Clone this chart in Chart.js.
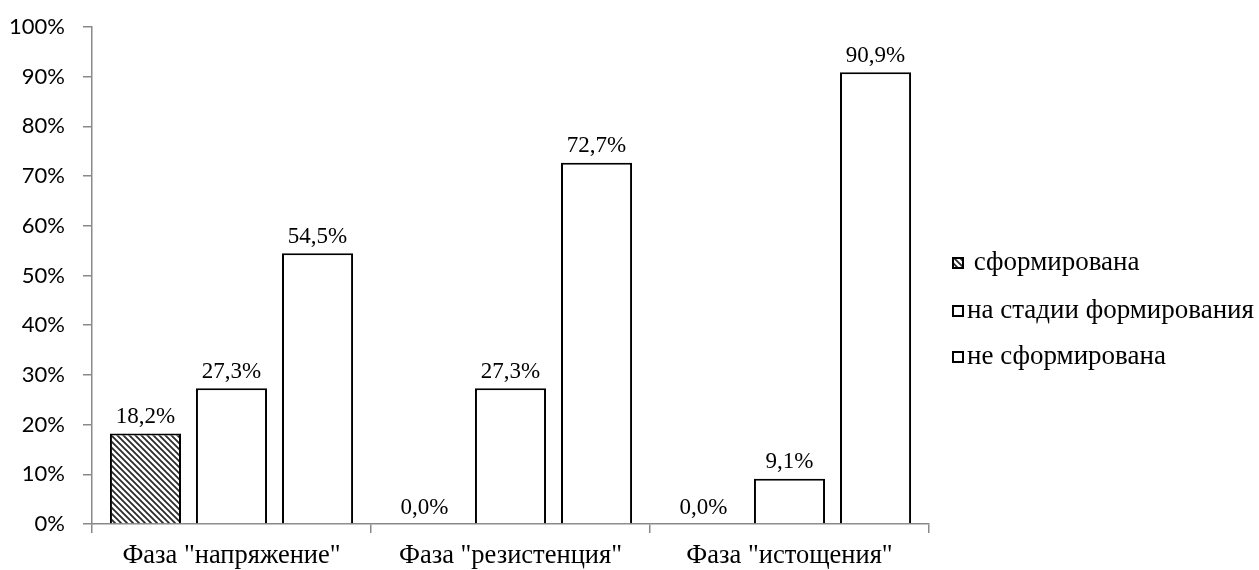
<!DOCTYPE html>
<html>
<head>
<meta charset="utf-8">
<script src="https://cdn.jsdelivr.net/npm/chart.js@4"></script>
<style>
html,body{margin:0;padding:0;background:#fff;}
canvas{display:block;}
</style>
</head>
<body>
<canvas id="c" width="1259" height="570"></canvas>
<script>
const categories = ['Фаза "напряжение"', 'Фаза "резистенция"', 'Фаза "истощения"'];
const seriesNames = ['сформирована', 'на стадии формирования', 'не сформирована'];
const formed = [18.2, 0.0, 0.0];
const forming = [27.3, 27.3, 9.1];
const notFormed = [54.5, 72.7, 90.9];
const yTicks = [0, 10, 20, 30, 40, 50, 60, 70, 80, 90, 100];

const AXIS = '#898989';
const SERIF = '"Liberation Serif", "Times New Roman", serif';

function makeHatch() {
  const s = 6;
  const p = document.createElement('canvas');
  p.width = s; p.height = s;
  const g = p.getContext('2d');
  g.fillStyle = '#fff'; g.fillRect(0, 0, s, s);
  g.strokeStyle = '#2a2a2a'; g.lineWidth = 1.8;
  g.beginPath();
  g.moveTo(-s, 0); g.lineTo(s * 2, s * 3);
  g.moveTo(-s, -s); g.lineTo(s * 2, s * 2);
  g.moveTo(0, -s); g.lineTo(s * 2, s);
  g.moveTo(-s * 2, -s); g.lineTo(s, s * 2);
  g.stroke();
  return g.createPattern(p, 'repeat');
}
const ctx0 = document.getElementById('c').getContext('2d');
const hatch = makeHatch();

const fmt = v => v.toFixed(1).replace('.', ',') + '%';

const valueLabels = {
  id: 'valueLabels',
  afterDatasetsDraw(chart) {
    const ctx = chart.ctx;
    ctx.save();
    ctx.font = '23px ' + SERIF;
    ctx.fillStyle = '#000';
    ctx.textAlign = 'center';
    ctx.textBaseline = 'bottom';
    chart.data.datasets.forEach((ds, i) => {
      chart.getDatasetMeta(i).data.forEach((bar, j) => {
        ctx.fillText(fmt(ds.data[j]), bar.x, bar.y - 5);
      });
    });
    ctx.restore();
  }
};

const sideLegend = {
  id: 'sideLegend',
  afterDraw(chart) {
    const ctx = chart.ctx;
    const x0 = chart.chartArea.right + 24;
    const rows = [263, 311, 357];
    ctx.save();
    ctx.font = '27px ' + SERIF;
    ctx.textBaseline = 'middle';
    ctx.fillStyle = '#000';
    chart.data.datasets.forEach((ds, i) => {
      const y = rows[i];
      ctx.fillStyle = ds.backgroundColor;
      ctx.fillRect(x0, y - 5, 10, 10);
      ctx.strokeStyle = '#000';
      ctx.lineWidth = 2;
      ctx.strokeRect(x0, y - 5, 10, 10);
      ctx.fillStyle = '#000';
      ctx.textAlign = 'left';
      ctx.fillText((i === 0 ? ' ' : '') + ds.label, x0 + 14, y);
    });
    ctx.restore();
  }
};

new Chart(ctx0, {
  type: 'bar',
  data: {
    labels: categories,
    datasets: [
      { label: seriesNames[0], data: formed, backgroundColor: hatch },
      { label: seriesNames[1], data: forming, backgroundColor: '#ffffff' },
      { label: seriesNames[2], data: notFormed, backgroundColor: '#ffffff' }
    ]
  },
  options: {
    responsive: false,
    animation: false,
    devicePixelRatio: 1,
    layout: { padding: { top: 27, right: 330, bottom: 0, left: 0 } },
    datasets: {
      bar: {
        borderColor: '#000',
        borderWidth: 2,
        borderSkipped: 'bottom',
        categoryPercentage: 0.925,
        barPercentage: 0.826
      }
    },
    plugins: { legend: { display: false }, tooltip: { enabled: false } },
    scales: {
      x: {
        afterFit(s) { s.height = 46; s.paddingLeft = 0; s.paddingRight = 0; },
        grid: { drawOnChartArea: false, tickLength: 9, color: AXIS, lineWidth: 1.5, offset: true },
        border: { color: AXIS, width: 1.5 },
        ticks: { color: '#000', padding: 7, font: { family: SERIF, size: 26.5 } }
      },
      y: {
        min: 0, max: 100,
        afterFit(s) { s.width = 92; s.paddingTop = 0; s.paddingBottom = 0; },
        afterBuildTicks(s) { s.ticks = yTicks.map(v => ({ value: v })); },
        grid: { drawOnChartArea: false, tickLength: 9, color: AXIS, lineWidth: 1.5 },
        border: { color: AXIS, width: 1.5 },
        ticks: { color: '#000', padding: 18, font: { family: 'Lato, "Liberation Sans", sans-serif', size: 22 }, callback: v => v + '%' }
      }
    }
  },
  plugins: [valueLabels, sideLegend]
});
</script>
</body>
</html>
